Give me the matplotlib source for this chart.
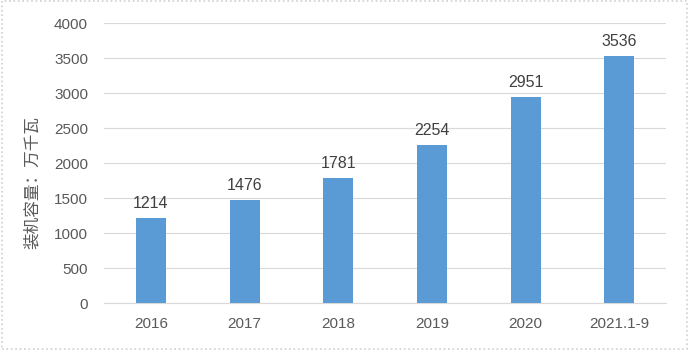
import matplotlib.pyplot as plt
import matplotlib.patches as mpatches

plt.rcParams['font.family'] = ['Liberation Sans', 'Noto Sans CJK SC', 'DejaVu Sans']

categories = ['2016', '2017', '2018', '2019', '2020', '2021.1-9']
values = [1214, 1476, 1781, 2254, 2951, 3536]
yticks = [0, 500, 1000, 1500, 2000, 2500, 3000, 3500, 4000]

text_color = '#595959'
bar_color = '#5B9BD5'

fig = plt.figure(figsize=(6.89, 3.5), dpi=100)
ax = fig.add_axes([0.151, 0.134, 0.816, 0.800])

x = list(range(len(categories)))
ax.bar(x, values, width=0.32, color=bar_color, zorder=3)
for xi, v in zip(x, values):
    ax.text(xi, v + 100, str(v), ha='center', va='bottom', fontsize=11.5, color='#404040')

ax.set_xlim(-0.5, len(categories) - 0.5)
ax.set_ylim(0, 4000)
ax.set_yticks(yticks)
ax.set_xticks(x)
ax.set_xticklabels(categories)
ax.yaxis.grid(True, color='#D9D9D9', linewidth=0.8, zorder=0)
ax.tick_params(axis='both', length=0, labelsize=11, colors=text_color)
ax.tick_params(axis='y', pad=11.5)
ax.tick_params(axis='x', pad=10)
for side in ['top', 'right', 'left']:
    ax.spines[side].set_visible(False)
ax.spines['bottom'].set_color('#D9D9D9')
ax.spines['bottom'].set_linewidth(0.8)

ax.set_ylabel('装机容量：万千瓦', fontsize=12, color=text_color,
              family=['Noto Sans CJK SC', 'DejaVu Sans'])
ax.yaxis.set_label_coords(-0.112, 0.43)

fig.patches.append(mpatches.Rectangle((0.003, 0.004), 0.994, 0.992, transform=fig.transFigure,
                                      fill=False, edgecolor='#D0D0D0', linewidth=1.2, linestyle=':'))

fig.savefig('out.png', dpi=100)
